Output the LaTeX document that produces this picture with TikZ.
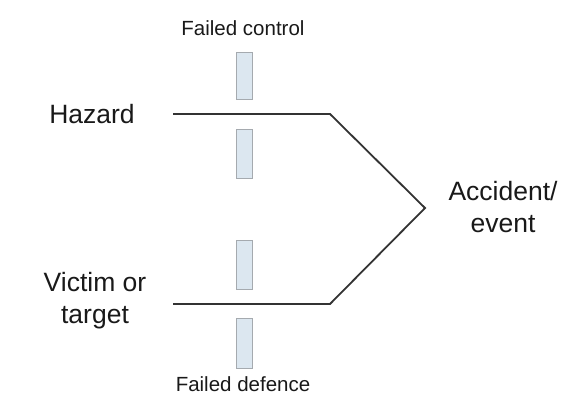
\documentclass[tikz,border=0pt]{standalone}
\usepackage{fontspec}
\setmainfont{Liberation Sans}
\definecolor{barfill}{RGB}{220,231,240}
\definecolor{barline}{RGB}{165,170,175}
\begin{document}
\begin{tikzpicture}[x=1pt,y=-1pt,
  label/.style={inner sep=0pt, align=center, text=black!90, font=\fontsize{26.5}{32}\selectfont},
  small/.style={inner sep=0pt, text=black!90, font=\fontsize{20.5}{25}\selectfont},
  barrier/.style={draw=barline, fill=barfill, line width=1pt, inner sep=0pt, minimum width=16pt},
  path/.style={draw=black!80, line width=1.8pt}]
\useasboundingbox (0,0) rectangle (576,399);
\node[small] (fc) at (243,28) {Failed control};
\node[small] (fd) at (243,384) {Failed defence};
\node[label] (haz) at (92,114) {Hazard};
\node[label] (vic) at (95,301) {Victim or\\target};
\node[label] (acc) at (503,207) {Accident/\\event};
\node[barrier, minimum height=47pt] (b1) at (244,75.5) {};
\node[barrier, minimum height=49pt] (b2) at (244,153.5) {};
\node[barrier, minimum height=49pt] (b3) at (244,264.5) {};
\node[barrier, minimum height=50pt] (b4) at (244,343) {};
\coordinate (h0) at (173,114);
\coordinate (h1) at (330,114);
\coordinate (apex) at (425,208);
\coordinate (v1) at (330,304);
\coordinate (v0) at (173,304);
\draw[path, line join=miter] (h0) -- (h1) -- (apex) -- (v1) -- (v0);
\end{tikzpicture}
\end{document}
